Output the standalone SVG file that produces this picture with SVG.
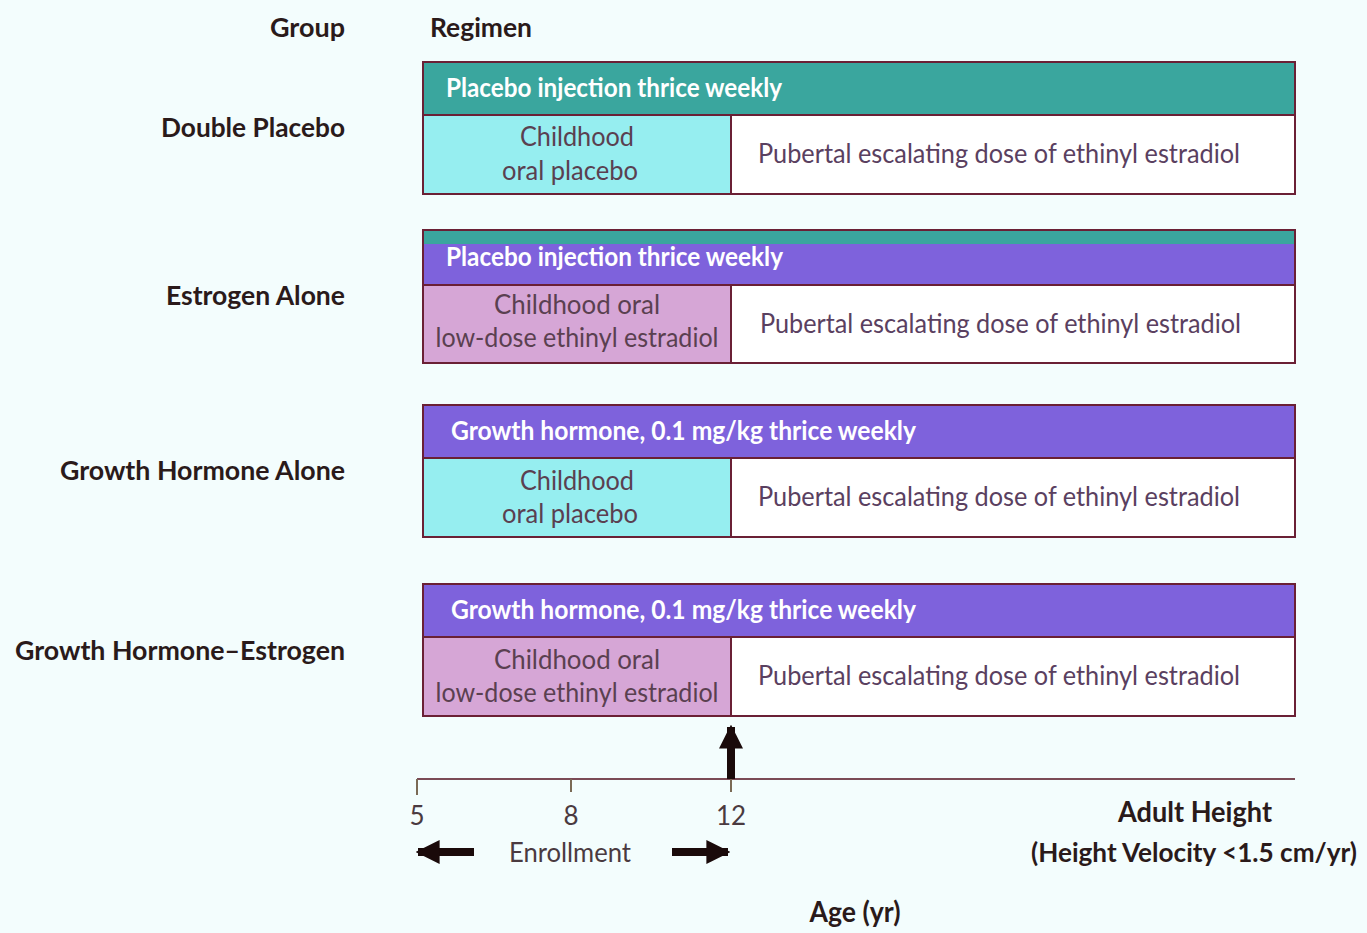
<svg xmlns="http://www.w3.org/2000/svg" width="1367" height="933" viewBox="0 0 1367 933">
<style>
text{font-family:Lato,"Liberation Sans",sans-serif;}
.lbl{font-size:27px;fill:#2a1a1a;text-anchor:end;font-weight:bold;}
.hd{font-size:26px;fill:#ffffff;font-weight:bold;}
.cell{font-size:27px;fill:#5a4050;text-anchor:middle;}
.pub{font-size:27px;fill:#5a4060;}
.ax{font-size:26px;fill:#4a3a40;text-anchor:middle;}
.big{font-size:28px;fill:#2a1a1a;text-anchor:middle;font-weight:bold;}
.bx{fill:none;stroke:#6a2035;stroke-width:2;}
.tealh{fill:#3aa69e;}
.purh{fill:#7e62dc;}
.cyan{fill:#96eef0;}
.pink{fill:#d6a6d6;}
.white{fill:#ffffff;}
.div{stroke:#6a2035;stroke-width:2;}
</style>
<defs>
<marker id="ah" viewBox="0 0 10 10" refX="9" refY="5" markerWidth="3" markerHeight="3" orient="auto-start-reverse">
<path d="M0,0 L10,5 L0,10 z" fill="#1a0a0a"/>
</marker>
</defs>
<rect width="1367" height="933" fill="#f3fdfd"/>
<text x="345" y="37" class="lbl" textLength="75" lengthAdjust="spacingAndGlyphs">Group</text>
<text x="430" y="37" style="font-size:27px;fill:#2a1a1a;font-weight:bold" textLength="102" lengthAdjust="spacingAndGlyphs">Regimen</text>

<g id="double-placebo">
<text x="345" y="137" class="lbl" textLength="184" lengthAdjust="spacingAndGlyphs">Double Placebo</text>
<rect x="423" y="62" width="872" height="53" class="tealh"/>
<rect x="423" y="115" width="308" height="79" class="cyan"/>
<rect x="731" y="115" width="564" height="79" class="white"/>
<line x1="423" y1="115" x2="1295" y2="115" class="div"/>
<line x1="731" y1="115" x2="731" y2="194" class="div"/>
<rect x="423" y="62" width="872" height="132" class="bx"/>
<text x="446" y="97" class="hd" textLength="336" lengthAdjust="spacingAndGlyphs">Placebo injection thrice weekly</text>
<text x="577" y="146" class="cell" textLength="114" lengthAdjust="spacingAndGlyphs">Childhood</text>
<text x="570" y="180" class="cell" textLength="136" lengthAdjust="spacingAndGlyphs">oral placebo</text>
<text x="758" y="163" class="pub" textLength="482" lengthAdjust="spacingAndGlyphs">Pubertal escalating dose of ethinyl estradiol</text>
</g>

<g id="estrogen-alone">
<text x="345" y="305" class="lbl" textLength="179" lengthAdjust="spacingAndGlyphs">Estrogen Alone</text>
<rect x="423" y="230" width="872" height="55" class="purh"/>
<rect x="423" y="230" width="872" height="14" class="tealh"/>
<rect x="423" y="285" width="308" height="78" class="pink"/>
<rect x="731" y="285" width="564" height="78" class="white"/>
<line x1="423" y1="285" x2="1295" y2="285" class="div"/>
<line x1="731" y1="285" x2="731" y2="363" class="div"/>
<rect x="423" y="230" width="872" height="133" class="bx"/>
<text x="446" y="266" class="hd" textLength="337" lengthAdjust="spacingAndGlyphs">Placebo injection thrice weekly</text>
<text x="577" y="314" class="cell" textLength="166" lengthAdjust="spacingAndGlyphs">Childhood oral</text>
<text x="577" y="347" class="cell" textLength="283" lengthAdjust="spacingAndGlyphs">low-dose ethinyl estradiol</text>
<text x="760" y="333" class="pub" textLength="481" lengthAdjust="spacingAndGlyphs">Pubertal escalating dose of ethinyl estradiol</text>
</g>

<g id="growth-hormone-alone">
<text x="345" y="480" class="lbl" textLength="285" lengthAdjust="spacingAndGlyphs">Growth Hormone Alone</text>
<rect x="423" y="405" width="872" height="53" class="purh"/>
<rect x="423" y="458" width="308" height="79" class="cyan"/>
<rect x="731" y="458" width="564" height="79" class="white"/>
<line x1="423" y1="458" x2="1295" y2="458" class="div"/>
<line x1="731" y1="458" x2="731" y2="537" class="div"/>
<rect x="423" y="405" width="872" height="132" class="bx"/>
<text x="451" y="440" class="hd" textLength="465" lengthAdjust="spacingAndGlyphs">Growth hormone, 0.1 mg/kg thrice weekly</text>
<text x="577" y="490" class="cell" textLength="114" lengthAdjust="spacingAndGlyphs">Childhood</text>
<text x="570" y="523" class="cell" textLength="136" lengthAdjust="spacingAndGlyphs">oral placebo</text>
<text x="758" y="506" class="pub" textLength="482" lengthAdjust="spacingAndGlyphs">Pubertal escalating dose of ethinyl estradiol</text>
</g>

<g id="growth-hormone-estrogen">
<text x="345" y="660" class="lbl" textLength="330" lengthAdjust="spacingAndGlyphs">Growth Hormone–Estrogen</text>
<rect x="423" y="584" width="872" height="53" class="purh"/>
<rect x="423" y="637" width="308" height="79" class="pink"/>
<rect x="731" y="637" width="564" height="79" class="white"/>
<line x1="423" y1="637" x2="1295" y2="637" class="div"/>
<line x1="731" y1="637" x2="731" y2="716" class="div"/>
<rect x="423" y="584" width="872" height="132" class="bx"/>
<text x="451" y="619" class="hd" textLength="465" lengthAdjust="spacingAndGlyphs">Growth hormone, 0.1 mg/kg thrice weekly</text>
<text x="577" y="669" class="cell" textLength="166" lengthAdjust="spacingAndGlyphs">Childhood oral</text>
<text x="577" y="702" class="cell" textLength="283" lengthAdjust="spacingAndGlyphs">low-dose ethinyl estradiol</text>
<text x="758" y="685" class="pub" textLength="482" lengthAdjust="spacingAndGlyphs">Pubertal escalating dose of ethinyl estradiol</text>
</g>

<g id="axis">
<line x1="417" y1="779" x2="1295" y2="779" stroke="#7a4a55" stroke-width="2"/>
<line x1="417" y1="779" x2="417" y2="795" stroke="#7a6a55" stroke-width="2"/>
<line x1="571" y1="779" x2="571" y2="792" stroke="#7a6a55" stroke-width="2"/>
<line x1="731" y1="779" x2="731" y2="792" stroke="#7a6a55" stroke-width="2"/>
<text x="417" y="825" class="ax">5</text>
<text x="571" y="825" class="ax">8</text>
<text x="731" y="825" class="ax">12</text>
<text x="570" y="862" class="ax" textLength="122" lengthAdjust="spacingAndGlyphs">Enrollment</text>
<text x="1195" y="822" class="big" textLength="154" lengthAdjust="spacingAndGlyphs">Adult Height</text>
<text x="1357" y="862" style="font-size:26px;fill:#2a1a1a;text-anchor:end;font-weight:bold" textLength="326" lengthAdjust="spacingAndGlyphs">(Height Velocity &lt;1.5 cm/yr)</text>
<text x="855" y="922" class="big" textLength="91" lengthAdjust="spacingAndGlyphs">Age (yr)</text>
</g>

<g id="connectors">
<line x1="731" y1="779" x2="731" y2="727" stroke="#1a0a0a" stroke-width="8" marker-end="url(#ah)"/>
<line x1="474" y1="852" x2="418" y2="852" stroke="#1a0a0a" stroke-width="8" marker-end="url(#ah)"/>
<line x1="672" y1="852" x2="728" y2="852" stroke="#1a0a0a" stroke-width="8" marker-end="url(#ah)"/>
</g>
</svg>
